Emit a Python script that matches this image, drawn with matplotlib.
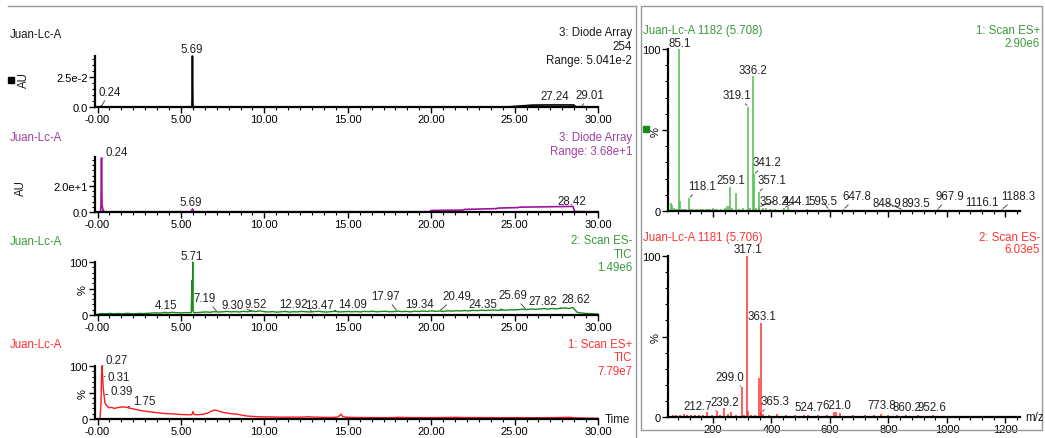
import matplotlib
matplotlib.use('Agg')
import matplotlib.pyplot as plt
import numpy as np
from matplotlib.ticker import MultipleLocator
from matplotlib.patches import Rectangle
from matplotlib.lines import Line2D

plt.rcParams['font.family'] = ['Liberation Sans', 'DejaVu Sans']

# ---------------- DATA ----------------
# Panel 1: Diode Array 254 (black)
t1 = [0.0, 0.18, 0.22, 0.24, 0.27, 0.35, 5.60, 5.66, 5.69, 5.72, 5.78, 24.55, 25.0, 25.6, 26.1,
      27.0, 28.0, 28.55, 28.60, 28.70, 29.01, 29.3, 30.0]
v1 = [0.0, 0.0, 0.0004, 0.0009, 0.0004, 0.0, 0.0, 0.0006, 0.0425, 0.0006, 0.0, 0.0, 0.0005, 0.0011, 0.0016,
      0.0017, 0.0017, 0.0017, 0.0009, 0.0001, 0.0003, 0.0, 0.0]
p1_labels = [0.24, 5.69, 27.24, 29.01]

# Panel 2: Diode Array (purple)
t2 = [0.0, 0.18, 0.21, 0.24, 0.27, 0.30, 0.34, 0.45, 5.55, 5.65, 5.69, 5.73, 5.85, 19.9, 20.0, 21.9,
      22.0, 23.9, 24.0, 25.2, 25.3, 28.5, 28.58, 28.7, 30.0]
v2 = [0.0, 0.0, 5.0, 41.5, 6.0, 3.5, 1.0, 0.2, 0.2, 0.8, 2.3, 0.8, 0.2, 0.2, 1.2, 1.5,
      2.0, 2.6, 3.0, 3.4, 3.7, 4.3, 0.8, 0.3, 0.2]
p2_labels = [0.24, 5.69, 28.42]

# Panel 3: Scan ES- TIC (green), sampled every 0.25 min, plus peak points
v3_grid = [1.5, 2.8, 2.2, 3.0, 2.4, 2.9, 2.1, 3.2, 2.6, 2.3, 3.1, 2.7, 3.3,
           3.6, 4.2, 3.5, 4.8, 4.1, 5.0, 4.4, 3.9, 4.6, 4.3,
           5.0, 4.6, 5.2, 5.8, 5.1, 6.3, 5.6, 6.0, 6.8, 5.9, 6.4, 5.7, 6.9, 6.2, 7.4, 6.6, 7.8, 6.1,
           5.8, 6.3, 5.4, 6.0, 6.7, 5.5, 6.2, 5.9, 6.8, 6.1, 5.7, 6.5, 7.0, 6.0, 5.6, 6.4, 6.9, 5.8, 6.3, 6.6,
           6.0, 6.6, 5.8, 6.9, 6.3, 7.2, 6.1, 6.7, 7.0, 6.2, 6.5, 7.3, 6.4, 6.9, 6.0, 7.1, 6.6, 7.4, 6.8, 7.7,
           7.0, 7.5, 6.8, 7.9, 7.3, 8.1, 7.6, 8.4, 7.8, 8.8, 8.2, 9.0, 8.5, 8.9, 9.4, 8.7, 9.6, 9.1, 10.0, 9.5,
           10.3, 11.0, 10.2, 11.4, 10.6, 11.2, 12.0, 11.1, 12.3, 11.5, 12.6, 13.4, 12.2, 14.0,
           5.0, 3.8, 3.0, 2.5, 2.2, 1.8]
t3_peak = [5.62, 5.66, 5.68, 5.70, 5.71, 5.73, 5.76]
v3_peak = [4.5, 65.0, 8.0, 60.0, 100.0, 10.0, 4.5]
p3_labels = [5.71, 4.15, 7.19, 9.30, 9.52, 12.92, 13.47, 14.09, 17.97, 19.34, 20.49, 24.35, 25.69, 27.82, 28.62]

# Panel 4: Scan ES+ TIC (red)
t4 = [0.0, 0.15, 0.21, 0.24, 0.27, 0.29, 0.31, 0.34, 0.39, 0.45, 0.55, 0.7, 0.85, 1.0, 1.15, 1.3, 1.5,
      1.75, 2.0, 2.3, 2.6, 3.0, 3.4, 3.8, 4.2, 4.6, 5.0, 5.4, 5.65, 5.72, 5.78, 6.0, 6.3, 6.6, 6.85, 7.0,
      7.15, 7.35, 7.6, 8.0, 8.4, 8.7, 9.0, 9.5, 10.0, 10.5, 11.0, 11.5, 12.0, 12.4, 12.6, 13.0, 13.5, 14.0,
      14.4, 14.6, 14.7, 14.9, 15.3, 16.0, 17.0, 17.8, 18.0, 18.5, 19.5, 20.5, 21.0, 21.5, 22.0, 23.0, 24.0,
      25.0, 26.0, 27.0, 27.8, 28.3, 28.5, 28.8, 29.2, 29.6, 30.0]
v4 = [0.5, 0.5, 30, 75, 100, 88, 80, 60, 45, 30, 25, 21, 22, 20, 21, 22, 23,
      22, 20, 18, 16, 14, 12.5, 11, 10, 9.5, 8.5, 8, 8, 14, 8.5, 8, 9, 11, 15, 17,
      16, 14, 12, 10, 9, 7, 5.5, 4.5, 4, 3.8, 3.5, 3.6, 3.4, 3.8, 4.3, 3.5, 3.2, 3.0,
      3.6, 9, 4.5, 3.4, 3.0, 2.8, 2.6, 2.7, 3.3, 2.8, 2.6, 2.7, 3.0, 3.2, 2.8, 2.7, 2.5,
      2.6, 2.4, 2.5, 2.9, 3.3, 2.6, 2.0, 1.8, 1.5, 1.2]
p4_labels = [0.27, 0.31, 0.39, 1.75]

# Spectrum 1: Juan-Lc-A 1182 (5.708), Scan ES+
mz1 = [55, 60, 65, 72, 78, 85.1, 88, 95, 101, 108, 118.1, 125, 133, 141, 150, 158, 166, 175, 182, 190,
       200, 208, 215, 228, 240, 248, 254, 259.1, 265, 278, 290, 304, 319.1, 325, 336.2, 341.2, 348,
       357.1, 358.2, 370, 380, 395, 412, 444.1, 455, 520, 595.5, 647.8, 700, 760, 848.9, 893.5,
       967.9, 1040, 1116.1, 1188.3]
in1 = [4.7, 4.0, 2.0, 1.5, 1.5, 100, 6.0, 1.5, 1.0, 1.5, 8.0, 1.5, 1.0, 1.5, 1.0, 1.5, 1.0, 1.5, 1.0, 1.5,
       2.0, 1.0, 1.5, 1.5, 2.0, 3.0, 3.0, 15.0, 2.0, 11.0, 1.5, 2.0, 64.5, 2.0, 83.5, 22.7, 2.0,
       11.8, 2.5, 2.0, 2.0, 1.5, 1.0, 2.0, 2.5, 1.0, 1.0, 1.2, 0.8, 0.8, 0.8, 0.8,
       1.0, 0.6, 1.0, 1.0]
s1_labels = [85.1, 118.1, 259.1, 319.1, 336.2, 341.2, 357.1, 358.2, 444.1, 595.5, 647.8, 848.9, 893.5,
             967.9, 1116.1, 1188.3]

# Spectrum 2: Juan-Lc-A 1181 (5.706), Scan ES-
mz2 = [62, 75, 88, 100, 110, 125, 140, 152, 165, 180, 195, 212.7, 225, 239.2, 250, 262, 280, 299.0, 305,
       317.1, 321, 330, 345, 357, 363.1, 365.3, 372, 390, 420, 450, 480, 510, 524.7, 560, 590, 615,
       621.0, 635, 680, 720, 750, 773.8, 800, 830, 860.2, 900, 952.6]
in2 = [1.0, 1.0, 1.5, 2.0, 1.0, 1.0, 1.5, 1.0, 1.0, 3.0, 1.5, 4.0, 1.0, 5.5, 2.0, 3.0, 1.0, 18.5, 1.5,
       100, 4.0, 1.5, 1.0, 24.0, 58.5, 3.0, 2.0, 1.0, 2.0, 1.0, 1.5, 1.0, 1.5, 1.0, 1.0, 3.0,
       3.0, 2.5, 1.0, 1.0, 1.0, 2.0, 1.0, 1.5, 1.5, 1.0, 1.5]
s2_labels = [212.7, 239.2, 299.0, 317.1, 363.1, 365.3, 524.7, 621.0, 773.8, 860.2, 952.6]

x_ticks = [0, 5, 10, 15, 20, 25, 30]
x_ticklabels = ['-0.00', '5.00', '10.00', '15.00', '20.00', '25.00', '30.00']
mz_ticks = [200, 400, 600, 800, 1000, 1200]

# ---------------- FIGURE ----------------
W, H = 1045, 439
fig = plt.figure(figsize=(W / 100, H / 100), dpi=100)
FS = 8.3
TFS = 8.0

BLACK = '#1a1a1a'
PURPLE_T, PURPLE_L = '#a040a0', '#a010a0'
GREEN_T, GREEN_L = '#3a9a3a', '#1a8a1a'
RED_T, RED_L = '#ff3333', '#ff1a1a'
SPEC_G = '#4cbf4c'
SPEC_R = '#ff3030'


def ax_px(left, top, right, bottom):
    return fig.add_axes([left / W, 1 - bottom / H, (right - left) / W, (bottom - top) / H])


def ftext(x, y, s, **kw):
    kw.setdefault('fontsize', FS)
    kw.setdefault('va', 'center')
    fig.text(x / W, 1 - y / H, s, **kw)


def style(ax):
    for s in ['top', 'right']:
        ax.spines[s].set_visible(False)
    for s in ['left', 'bottom']:
        ax.spines[s].set_linewidth(1.6)
        ax.spines[s].set_color('black')
    ax.tick_params(which='major', direction='out', length=4, width=1, labelsize=TFS, pad=1, colors='black')
    ax.tick_params(which='minor', direction='out', length=2.5, width=0.8, colors='black')
    ax.patch.set_alpha(0)


def lab(ax, x, y, s, px, py, leader):
    kw = {}
    if leader:
        kw['arrowprops'] = dict(arrowstyle='-', color='#333333', lw=0.6, shrinkA=0, shrinkB=1)
    ax.annotate(s, xy=(x, y), xycoords='data', xytext=(px, H - py), textcoords='figure pixels',
                ha='center', va='center', fontsize=FS, color='#222222', annotation_clip=False, **kw)


def chrom_axes(top, bottom):
    ax = ax_px(95, top, 598, bottom)
    style(ax)
    ax.set_xlim(-0.15, 30.0)
    ax.set_xticks(x_ticks)
    ax.set_xticklabels(x_ticklabels)
    ax.xaxis.set_minor_locator(MultipleLocator(5 / 7))
    return ax


# frames
fig.add_artist(Line2D([8 / W, 636 / W], [1 - 7 / H, 1 - 7 / H], color='#999999', lw=1, transform=fig.transFigure))
fig.add_artist(Line2D([636 / W, 636 / W], [1 - 7 / H, 0], color='#999999', lw=1, transform=fig.transFigure))
fig.add_artist(Rectangle((641 / W, 1 - 431 / H), (1042 - 641) / W, (431 - 7) / H, fill=False,
                         edgecolor='#999999', lw=1, transform=fig.transFigure))

# ---- Panel 1
ax1 = chrom_axes(57, 108)
ax1.plot(t1, v1, color='black', lw=1.2, clip_on=False)
ax1.set_ylim(0, 0.0425)
ax1.set_yticks([0, 0.025])
ax1.set_yticklabels(['0.0', '2.5e-2'])
ax1.yaxis.set_minor_locator(MultipleLocator(0.005))
lay1 = [(110, 93, True), (192, 50, False), (555, 97, False), (590, 96, True)]
for t, (px, py, ld) in zip(p1_labels, lay1):
    lab(ax1, t, np.interp(t, t1, v1), f'{t:.2f}', px, py, ld)
ftext(10, 35, 'Juan-Lc-A', color=BLACK)
ftext(632, 33, '3: Diode Array', color=BLACK, ha='right')
ftext(632, 47, '254', color=BLACK, ha='right')
ftext(632, 61, 'Range: 5.041e-2', color=BLACK, ha='right')
ftext(24, 80, 'AU', color=BLACK, ha='center', rotation=90)
fig.add_artist(Rectangle((8 / W, 1 - 84 / H), 6 / W, 6 / H, color='black', transform=fig.transFigure))

# ---- Panel 2
ax2 = chrom_axes(158, 213)
ax2.plot(t2, v2, color=PURPLE_L, lw=1.2, clip_on=False)
ax2.set_ylim(0, 42.3)
ax2.set_yticks([0, 20])
ax2.set_yticklabels(['0.0', '2.0e+1'])
ax2.yaxis.set_minor_locator(MultipleLocator(4))
lay2 = [(117, 153, True), (191, 203, False), (572, 202, False)]
for t, (px, py, ld) in zip(p2_labels, lay2):
    lab(ax2, t, np.interp(t, t2, v2), f'{t:.2f}', px, py, ld)
ftext(10, 138, 'Juan-Lc-A', color=PURPLE_T)
ftext(632, 138, '3: Diode Array', color=PURPLE_T, ha='right')
ftext(632, 152, 'Range: 3.68e+1', color=PURPLE_T, ha='right')
ftext(21, 188, 'AU', color=BLACK, ha='center', rotation=90)

# ---- Panel 3
t3_grid = np.linspace(0, 30, len(v3_grid))
t3 = np.concatenate([t3_grid, t3_peak])
v3 = np.concatenate([v3_grid, v3_peak])
order = np.argsort(t3)
t3, v3 = t3[order], v3[order]
ax3 = chrom_axes(263, 316)
ax3.plot(t3, v3, color=GREEN_L, lw=1.0, clip_on=False)
ax3.set_ylim(0, 100)
ax3.set_yticks([0, 50, 100])
ax3.set_yticklabels(['0', '%', '100'])
ax3.get_yticklabels()[1].set_rotation(90)
ax3.yaxis.set_minor_locator(MultipleLocator(10))
lay3 = [(192, 257, False), (166, 306, False), (205, 299, True), (233, 306, True), (256, 305, False),
        (293, 305, True), (320, 306, False), (353, 305, True), (385, 297, True), (420, 305, False),
        (457, 297, True), (483, 305, True), (513, 296, True), (543, 302, True), (576, 300, False)]
for t, (px, py, ld) in zip(p3_labels, lay3):
    lab(ax3, t, np.interp(t, t3, v3), f'{t:.2f}', px, py, ld)
ftext(10, 242, 'Juan-Lc-A', color=GREEN_T)
ftext(632, 241, '2: Scan ES-', color=GREEN_T, ha='right')
ftext(632, 255, 'TIC', color=GREEN_T, ha='right')
ftext(632, 268, '1.49e6', color=GREEN_T, ha='right')

# ---- Panel 4
ax4 = chrom_axes(367, 420)
ax4.plot(t4, v4, color=RED_L, lw=1.0, clip_on=False)
ax4.set_ylim(0, 100)
ax4.set_yticks([0, 50, 100])
ax4.set_yticklabels(['0', '%', '100'])
ax4.get_yticklabels()[1].set_rotation(90)
ax4.yaxis.set_minor_locator(MultipleLocator(10))
lay4 = [(117, 361, True), (119, 378, True), (122, 392, True), (144, 402, True)]
for t, (px, py, ld) in zip(p4_labels, lay4):
    lab(ax4, t, np.interp(t, t4, v4), f'{t:.2f}', px, py, ld)
ftext(10, 345, 'Juan-Lc-A', color=RED_T)
ftext(632, 345, '1: Scan ES+', color=RED_T, ha='right')
ftext(632, 358, 'TIC', color=RED_T, ha='right')
ftext(632, 372, '7.79e7', color=RED_T, ha='right')
ftext(605, 420, 'Time', color=BLACK, ha='left')


# ---- Spectra
def spec_axes(top, bottom):
    ax = ax_px(668, top, 1020, bottom)
    style(ax)
    ax.set_xlim(46, 1250)
    ax.set_ylim(0, 100)
    ax.set_xticks(mz_ticks)
    ax.xaxis.set_minor_locator(MultipleLocator(40))
    ax.set_yticks([0, 50, 100])
    ax.set_yticklabels(['0', '%', '100'])
    ax.get_yticklabels()[1].set_rotation(90)
    ax.yaxis.set_minor_locator(MultipleLocator(10))
    return ax


sa = spec_axes(50, 212)
sa.vlines(mz1, 0, in1, color=SPEC_G, lw=1.1, clip_on=False)
sa.set_xticklabels([])
d1 = dict(zip(mz1, in1))
lays1 = [(680, 44, False), (702, 187, True), (731, 181, False), (737, 96, True), (753, 71, False),
         (767, 163, True), (772, 181, True), (774, 202, True), (797, 202, True), (823, 202, True),
         (857, 197, True), (887, 204, True), (916, 204, False), (950, 197, True), (982, 203, False),
         (1018, 197, True)]
for m, (px, py, ld) in zip(s1_labels, lays1):
    lab(sa, m, d1[m], f'{m:.1f}', px, py, ld)
ftext(643, 31, 'Juan-Lc-A 1182 (5.708)', color=GREEN_T, ha='left')
ftext(1040, 31, '1: Scan ES+', color=GREEN_T, ha='right')
ftext(1040, 44, '2.90e6', color=GREEN_T, ha='right')
fig.add_artist(Rectangle((643 / W, 1 - 133 / H), 6 / W, 6 / H, color='#1a8a1a', transform=fig.transFigure))

sb = spec_axes(257, 418)
sb.vlines(mz2, 0, in2, color=SPEC_R, lw=1.1, clip_on=False)
d2 = dict(zip(mz2, in2))
lays2 = [(698, 407, True), (725, 403, False), (730, 378, True), (748, 250, False), (762, 317, False),
         (775, 402, True), (809, 408, False), (837, 406, False), (882, 406, False), (907, 408, False),
         (932, 408, False)]
for m, (px, py, ld) in zip(s2_labels, lays2):
    lab(sb, m, d2[m], f'{m:.1f}', px, py, ld)
ftext(643, 238, 'Juan-Lc-A 1181 (5.706)', color=RED_T, ha='left')
ftext(1040, 238, '2: Scan ES-', color=RED_T, ha='right')
ftext(1040, 250, '6.03e5', color=RED_T, ha='right')
ftext(1025, 418, 'm/z', color=BLACK, ha='left')

fig.savefig('out.png', dpi=100, facecolor='white')
